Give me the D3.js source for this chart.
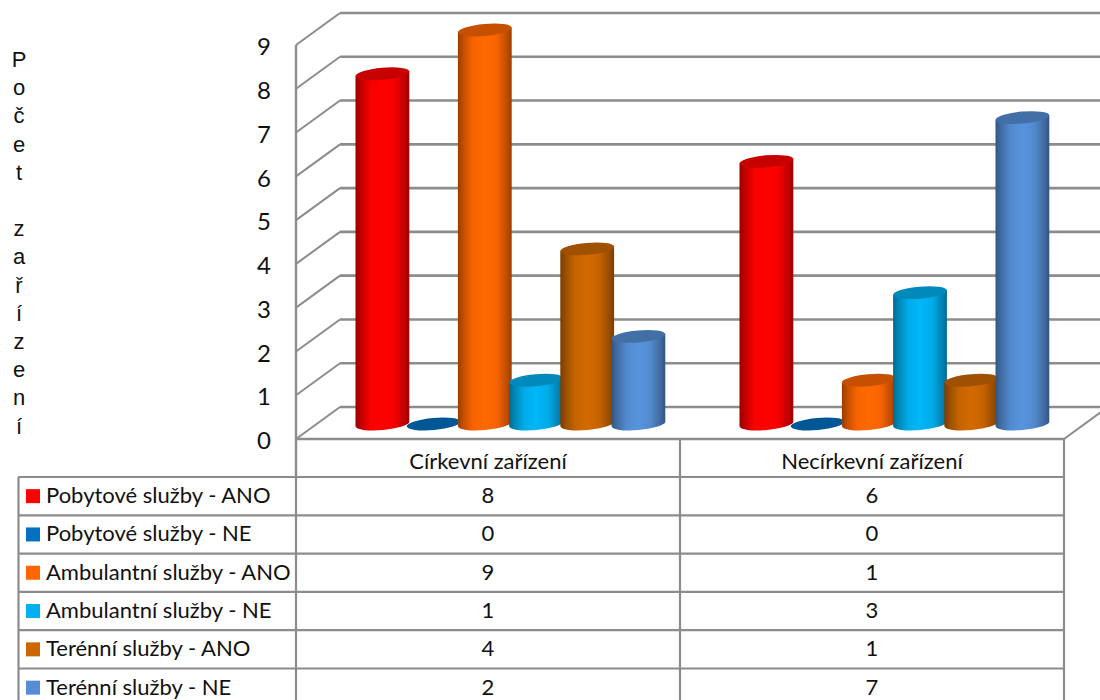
<!DOCTYPE html>
<html><head><meta charset="utf-8">
<script src="https://cdn.jsdelivr.net/npm/d3@7"></script>
<style>
html,body{margin:0;padding:0;background:#fff;overflow:hidden}
svg{display:block}
.tbl{font-family:Lato,"Open Sans",sans-serif;font-size:22px;fill:#111}
.axis text{font-family:Lato,"Open Sans",sans-serif;font-size:24px;fill:#111}
.ytitle{font-family:"Liberation Sans",Arial,sans-serif;font-size:22px;fill:#111}
</style></head><body>
<svg id="chart" width="1100" height="700"></svg>
<script>
const categories = ["Církevní zařízení", "Necírkevní zařízení"];
const seriesNames = ["Pobytové služby - ANO", "Pobytové služby - NE", "Ambulantní služby - ANO", "Ambulantní služby - NE", "Terénní služby - ANO", "Terénní služby - NE"];
const seriesColors = ["#FF0000", "#0070C0", "#FF6600", "#00B0F0", "#CC6600", "#558ED5"];
const cirkevni = [8, 0, 9, 1, 4, 2];
const necirkevni = [6, 0, 1, 3, 1, 7];
const yTicks = [0, 1, 2, 3, 4, 5, 6, 7, 8, 9];
const titleLetters = ["P", "o", "č", "e", "t", "", "z", "a", "ř", "í", "z", "e", "n", "í"];
const valuesByCategory = [cirkevni, necirkevni];

const svg = d3.select("#chart");
const defs = svg.append("defs");
const grid = "#8c8c8c";

// Oblique projection of the chart box
const depthX = 44, depthY = -32;
const y = d3.scaleLinear().domain([0, 9]).range([439, 45]);
const x0 = d3.scaleBand().domain(categories).range([296, 1064]);
const groupHalf = 153.6;
const x1 = d3.scaleBand().domain(seriesNames).range([-groupHalf, groupHalf]);

// Back wall, side wall and floor
yTicks.forEach(t => {
  svg.append("line").attr("x1", 296).attr("y1", y(t)).attr("x2", 296 + depthX).attr("y2", y(t) + depthY)
    .attr("stroke", grid).attr("stroke-width", 2);
  svg.append("line").attr("x1", 296 + depthX).attr("y1", y(t) + depthY).attr("x2", 1100).attr("y2", y(t) + depthY)
    .attr("stroke", grid).attr("stroke-width", 2.6);
});
svg.append("line").attr("x1", 296).attr("y1", y(9)).attr("x2", 296).attr("y2", 477).attr("stroke", grid).attr("stroke-width", 2.4);
svg.append("line").attr("x1", 296).attr("y1", y(0)).attr("x2", 1064).attr("y2", y(0)).attr("stroke", grid).attr("stroke-width", 2.4);
svg.append("line").attr("x1", 1064).attr("y1", y(0)).attr("x2", 1064 + depthX).attr("y2", y(0) + depthY).attr("stroke", grid).attr("stroke-width", 2);

// Value axis labels
const axis = d3.axisLeft(y).tickValues(yTicks).tickSize(0).tickPadding(0).tickFormat(d3.format("d"));
const axisG = svg.append("g").attr("class", "axis").attr("transform", "translate(271,2)").call(axis);
axisG.select(".domain").remove();

// Stacked axis title
svg.append("g").selectAll("text").data(titleLetters).join("text")
  .attr("class", "ytitle").attr("text-anchor", "middle")
  .attr("x", 19)
  .attr("y", (d, i) => 67 + i * 28.2)
  .text(d => d);

// One horizontal shading gradient per series
seriesColors.forEach((c, i) => {
  const base = d3.color(c);
  const g = defs.append("linearGradient").attr("id", "cyl" + i);
  [[0, 0.6], [0.1, 0.76], [0.28, 0.97], [0.5, 1.04], [0.72, 0.97], [0.9, 0.76], [1, 0.6]].forEach(([o, k]) => {
    g.append("stop").attr("offset", o).attr("stop-color",
      d3.rgb(Math.min(255, base.r * k), Math.min(255, base.g * k), Math.min(255, base.b * k)));
  });
});

// Cylinders
const rx = 27, ry = 6, tilt = -5;
const sinT = Math.sin(tilt * Math.PI / 180) * rx;
const cosT = Math.cos(tilt * Math.PI / 180) * rx;
const baseOffset = y(0) - 15;
categories.forEach((cat, ci) => {
  const center = x0(cat) + x0.bandwidth() / 2 + depthX / 2 + 0.4;
  seriesNames.forEach((s, si) => {
    const v = valuesByCategory[ci][si];
    const cx = center + x1(s) + x1.bandwidth() / 2;
    const top = baseOffset - (y(0) - y(v));
    const g = svg.append("g");
    if (v > 0) {
      g.append("path")
        .attr("d", `M${cx - cosT},${top - sinT} L${cx - cosT},${baseOffset - sinT} A${rx},${ry} ${tilt} 0 0 ${cx + cosT},${baseOffset + sinT} L${cx + cosT},${top + sinT} Z`)
        .attr("fill", `url(#cyl${si})`);
    }
    const cc = d3.color(seriesColors[si]);
    g.append("ellipse").attr("cx", 0).attr("cy", 0).attr("rx", rx).attr("ry", ry)
      .attr("transform", `translate(${cx},${top}) rotate(${tilt})`)
      .attr("fill", d3.rgb(cc.r * 0.78, cc.g * 0.78, cc.b * 0.78));
  });
});

// Data table under the plot
const rowY = d3.scaleLinear().domain([0, 1]).range([477, 515.3]);
const col = x0.bandwidth();
const lines = svg.append("g");
seriesNames.concat([""]).forEach((s, i) => {
  lines.append("line").attr("x1", 18).attr("x2", 1064).attr("y1", rowY(i)).attr("y2", rowY(i))
    .attr("stroke", grid).attr("stroke-width", 2.2);
});
[18.5, 680, 1064].forEach(px => {
  lines.append("line").attr("x1", px).attr("x2", px)
    .attr("y1", px === 18.5 ? 477 : 439).attr("y2", 700)
    .attr("stroke", grid).attr("stroke-width", 2.2);
});
lines.append("line").attr("x1", 296).attr("x2", 296).attr("y1", 477).attr("y2", 700).attr("stroke", grid).attr("stroke-width", 2.2);

categories.forEach(cat => {
  svg.append("text").attr("class", "tbl").attr("text-anchor", "middle")
    .attr("x", x0(cat) + col / 2).attr("y", 469).text(cat);
});
seriesNames.forEach((s, i) => {
  const mid = rowY(i + 0.5);
  svg.append("rect").attr("x", 26).attr("y", mid - 7).attr("width", 14).attr("height", 14).attr("fill", seriesColors[i]);
  svg.append("text").attr("class", "tbl").attr("x", 46).attr("y", mid + 7).text(s);
  categories.forEach((cat, ci) => {
    svg.append("text").attr("class", "tbl").attr("text-anchor", "middle")
      .attr("x", x0(cat) + col / 2).attr("y", mid + 7).text(valuesByCategory[ci][i]);
  });
});
</script>
</body></html>
